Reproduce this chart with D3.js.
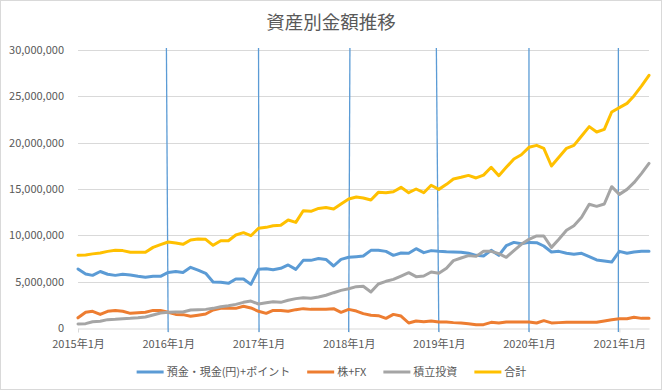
<!DOCTYPE html>
<html>
<head>
<meta charset="utf-8">
<script src="https://cdn.jsdelivr.net/npm/d3@7.9.0/dist/d3.min.js"></script>
<style>
  body { margin: 0; background: #fff; }
  svg { display: block; font-family: "Noto Sans CJK JP", "Noto Sans", sans-serif; }
</style>
</head>
<body>
<svg id="chart" width="663" height="391"></svg>
<script>
// monthly values in 万円 (10,000 yen), Jan 2015 .. May 2021
const months = d3.timeMonth.range(new Date(2015, 0, 1), new Date(2021, 5, 1));

const deposits = [
  637, 583, 568, 610, 580, 568, 580, 572, 558, 547, 558, 558,
  600, 610, 600, 655, 625, 590, 496, 493, 482, 529, 529, 471,
  633, 640, 629, 644, 680, 633, 730, 730, 750, 740, 669, 741,
  763, 770, 777, 838, 838, 827, 784, 809, 806, 856, 813, 835,
  827, 822, 820, 817, 806, 784, 777, 838, 784, 888, 924, 910,
  924, 921, 885, 820, 827, 806, 795, 806, 770, 734, 723, 712,
  827, 806, 820, 827, 827
];
const stocksFx = [
  110, 170, 180, 147, 180, 190, 180, 158, 165, 170, 190, 190,
  170, 147, 144, 126, 138, 151, 194, 212, 212, 212, 234, 216,
  180, 158, 190, 190, 180, 198, 209, 201, 203, 203, 209, 169,
  201, 183, 155, 137, 133, 104, 147, 129, 54, 76, 68, 76,
  65, 65, 58, 54, 47, 36, 36, 61, 54, 65, 65, 65,
  65, 54, 79, 55, 58, 61, 61, 61, 61, 61, 76, 90,
  100, 100, 115, 104, 104
];
const funds = [
  43, 47, 68, 72, 90, 94, 100, 104, 110, 119, 140, 162,
  169, 173, 173, 194, 197, 201, 212, 230, 241, 255, 277, 291,
  259, 273, 284, 277, 299, 317, 327, 320, 335, 353, 381, 406,
  424, 446, 450, 388, 475, 504, 525, 561, 597, 554, 561, 604,
  590, 645, 727, 755, 781, 773, 827, 827, 802, 763, 835, 903,
  957, 993, 993, 870, 957, 1054, 1104, 1194, 1335, 1313, 1338, 1525,
  1442, 1496, 1568, 1669, 1777
];
const total = [
  785, 788, 800, 810, 827, 838, 835, 817, 817, 817, 870, 900,
  928, 917, 903, 950, 960, 957, 892, 942, 942, 1004, 1029, 996,
  1076, 1086, 1104, 1108, 1165, 1140, 1266, 1259, 1290, 1300, 1284, 1338,
  1392, 1414, 1403, 1381, 1464, 1460, 1471, 1518, 1460, 1500, 1460, 1540,
  1496, 1550, 1608, 1626, 1647, 1619, 1650, 1734, 1644, 1734, 1824, 1870,
  1950, 1971, 1939, 1748, 1842, 1939, 1971, 2072, 2173, 2115, 2144, 2331,
  2378, 2424, 2504, 2612, 2727
];

const seriesNames = ["預金・現金(円)+ポイント", "株+FX", "積立投資", "合計"];
const seriesValues = [deposits, stocksFx, funds, total];
const colors = ["#5B9BD5", "#ED7D31", "#A5A5A5", "#FFC000"];
const yTicks = [0, 5000000, 10000000, 15000000, 20000000, 25000000, 30000000];
const yearTicks = d3.timeYear.range(new Date(2015, 0, 1), new Date(2021, 1, 1));
// year marker lines (top / bottom dates, slightly off Jan 1 in the original)
const markerTop = ["2015-12-25", "2017-01-01", "2018-01-06", "2018-12-22", "2020-01-01", "2020-12-28"];
const markerBottom = ["2016-01-01", "2017-01-03", "2018-01-01", "2019-01-01", "2020-01-01", "2020-12-28"];

const svg = d3.select('#chart');
const plotL = 78, plotR = 649, plotT = 50, plotB = 328;

// outer border
svg.append('rect')
  .attr('x', 0.5).attr('y', 0.5)
  .attr('width', 661).attr('height', 389)
  .attr('fill', '#fff')
  .attr('stroke', '#D9D9D9');

svg.append('text')
  .attr('x', 331).attr('y', 29)
  .attr('text-anchor', 'middle')
  .attr('font-size', 18.5)
  .attr('fill', '#595959')
  .text('資産別金額推移');

let x = d3.scaleTime()
  .domain([months[0], months[months.length - 1]])
  .range([plotL, plotR]);
let y = d3.scaleLinear()
  .domain([0, 30000000])
  .range([plotB, plotT]);

// gridlines
svg.append('g')
  .selectAll('line')
  .data(yTicks.slice(1))
  .join('line')
  .attr('x1', plotL).attr('x2', plotR)
  .attr('y1', d => Math.round(y(d)) + 0.5)
  .attr('y2', d => Math.round(y(d)) + 0.5)
  .attr('stroke', '#D9D9D9');

// y axis labels
let yAxis = svg.append('g')
  .attr('transform', `translate(${plotL - 14},0)`)
  .call(d3.axisLeft(y).tickValues(yTicks).tickFormat(d3.format(',')).tickSize(0).tickPadding(0));
yAxis.select('.domain').remove();
yAxis.selectAll('text')
  .attr('font-size', 11)
  .attr('font-family', '"Noto Sans CJK JP", sans-serif')
  .attr('fill', '#595959');

// x axis
let xAxis = svg.append('g')
  .attr('transform', `translate(0,${Math.round(plotB) + 0.5})`)
  .call(d3.axisBottom(x).tickValues(yearTicks).tickFormat(d3.timeFormat('%Y年%-m月')).tickSizeInner(4).tickSizeOuter(0).tickPadding(8));
xAxis.select('.domain').attr('stroke', '#D9D9D9');
xAxis.selectAll('.tick line').attr('stroke', '#D9D9D9');
xAxis.selectAll('text')
  .attr('font-size', 11)
  .attr('font-family', '"Noto Sans CJK JP", sans-serif')
  .attr('fill', '#595959');

// vertical year markers
let parseDay = d3.timeParse('%Y-%m-%d');
svg.append('g')
  .selectAll('line')
  .data(markerTop.map((d, i) => [parseDay(d), parseDay(markerBottom[i])]))
  .join('line')
  .attr('x1', d => x(d[0]))
  .attr('x2', d => x(d[1]))
  .attr('y1', y(30000000) - 2).attr('y2', plotB + 4)
  .attr('stroke', '#5B9BD5')
  .attr('stroke-width', 1.3);

// series lines
let line = d3.line()
  .x((d, i) => x(months[i]))
  .y(d => y(d * 10000));

seriesValues.forEach((vals, idx) => {
  svg.append('path')
    .datum(vals)
    .attr('d', line)
    .attr('fill', 'none')
    .attr('stroke', colors[idx])
    .attr('stroke-width', 3)
    .attr('stroke-linejoin', 'round')
    .attr('stroke-linecap', 'round');
});

// legend
let legend = svg.append('g');
let lx = 0;
seriesNames.forEach((name, idx) => {
  let item = legend.append('g').attr('transform', `translate(${lx},0)`);
  item.append('line')
    .attr('x1', 0).attr('x2', 27)
    .attr('y1', 0).attr('y2', 0)
    .attr('stroke', colors[idx])
    .attr('stroke-width', 3);
  let t = item.append('text')
    .attr('x', 30).attr('y', 4)
    .attr('font-size', 11)
    .attr('fill', '#595959')
    .text(name);
  lx += 30 + t.node().getComputedTextLength() + 17;
});
let legendW = lx - 17;
legend.attr('transform', `translate(${(663 - legendW) / 2},372)`);
</script>
</body>
</html>
